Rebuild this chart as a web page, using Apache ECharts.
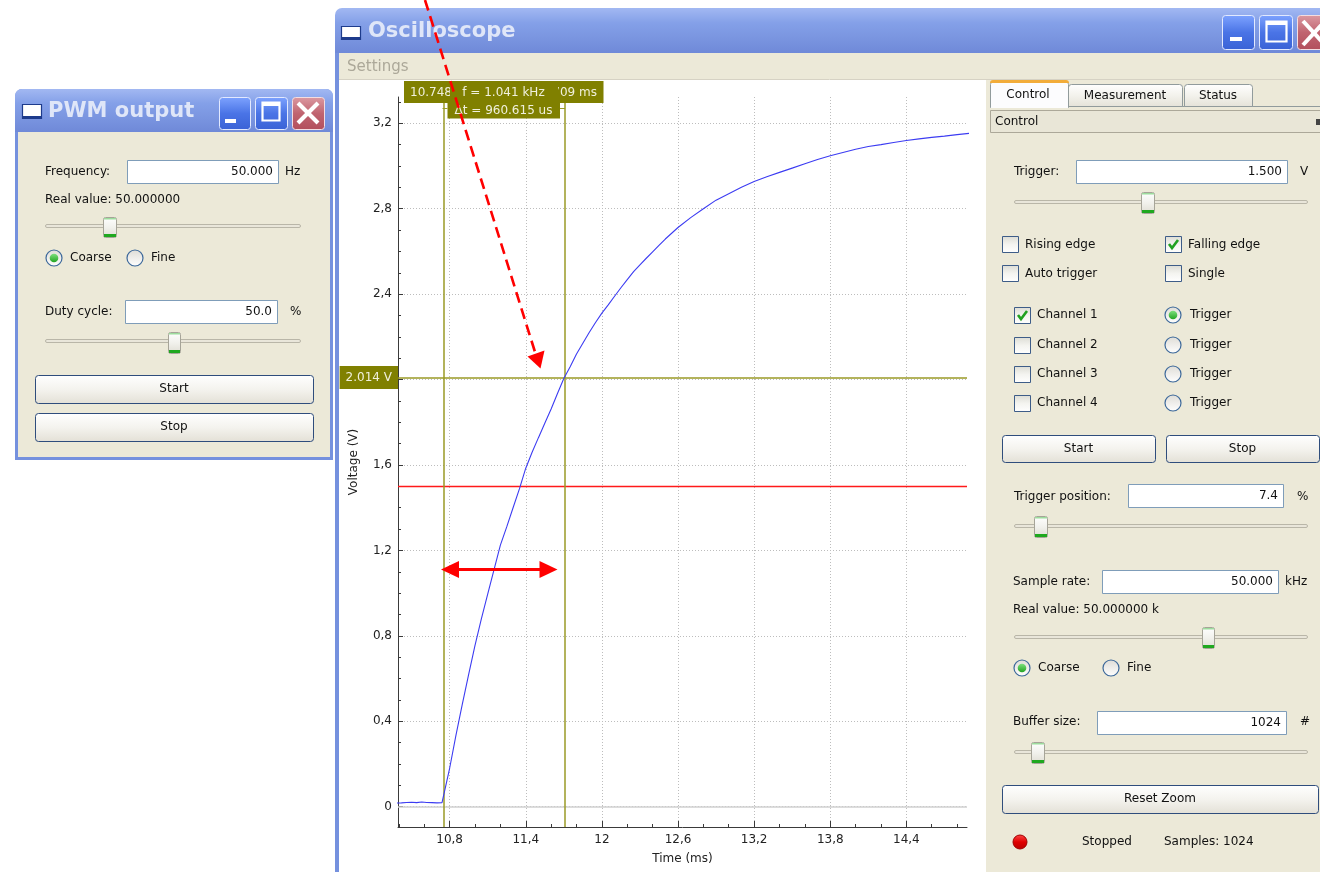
<!DOCTYPE html>
<html>
<head>
<meta charset="utf-8">
<script src="https://cdn.jsdelivr.net/npm/echarts@6/dist/echarts.min.js"></script>
<style>
html,body{margin:0;padding:0;background:#fff;}
#chart{width:1320px;height:872px;}
</style>
</head>
<body>
<div id="chart"></div>
<script>
// ---------------- data ----------------
const timeMs = [10.38,10.42,10.46,10.50,10.54,10.58,10.62,10.66,10.70,10.74,10.75,10.80,10.85,10.90,10.95,11.00,11.05,11.10,11.15,11.20,11.25,11.30,11.35,11.40,11.45,11.50,11.55,11.60,11.65,11.70,11.75,11.80,11.85,11.90,11.95,12.00,12.05,12.10,12.15,12.20,12.25,12.30,12.35,12.40,12.45,12.50,12.60,12.70,12.80,12.90,13.00,13.10,13.20,13.30,13.40,13.50,13.60,13.70,13.80,13.90,14.00,14.10,14.20,14.30,14.40,14.50,14.60,14.70,14.80,14.90];
const voltage = [0.017,0.018,0.020,0.021,0.019,0.022,0.020,0.019,0.018,0.019,0.020,0.18,0.335,0.48,0.62,0.755,0.88,0.995,1.11,1.225,1.31,1.40,1.488,1.585,1.66,1.728,1.795,1.862,1.935,2.005,2.06,2.12,2.17,2.22,2.267,2.311,2.35,2.39,2.43,2.468,2.505,2.537,2.568,2.598,2.628,2.658,2.712,2.758,2.80,2.84,2.87,2.90,2.927,2.95,2.97,2.99,3.01,3.03,3.048,3.063,3.078,3.091,3.10,3.11,3.119,3.127,3.134,3.14,3.147,3.153];
const timeRange = [10.393, 14.878];
const voltRange = [-0.095, 3.323];
const xTickValues = [10.8, 11.4, 12, 12.6, 13.2, 13.8, 14.4];
const xMinorTickValues = [10.4,10.6,11.0,11.2,11.6,11.8,12.2,12.4,12.8,13.0,13.4,13.6,14.0,14.2,14.6,14.8];
const yTickValues = [0, 0.4, 0.8, 1.2, 1.6, 2.0, 2.4, 2.8, 3.2];
const yMinorTickValues = [0.1,0.2,0.3,0.5,0.6,0.7,0.9,1.0,1.1,1.3,1.4,1.5,1.7,1.8,1.9,2.1,2.2,2.3,2.5,2.6,2.7,2.9,3.0,3.1,3.3];
const cursorTimes = [10.748, 11.709];
const cursorVoltage = 2.014;
const triggerLevel = 1.5;

// ---------------- helpers for the window chrome ----------------
const FONT = '"DejaVu Sans", Verdana, sans-serif';
const G = [];
function lg(stops){return new echarts.graphic.LinearGradient(0,0,0,1,stops.map((c,i)=>({offset:i/(stops.length-1),color:c})));}
function R(x,y,w,h,fill,stroke,o){o=o||{};const off=stroke?0.5:0;G.push({type:'rect',silent:true,z:o.z||1,shape:{x:x+off,y:y+off,width:w,height:h,r:o.r||0},style:{fill:fill||'none',stroke:stroke||'none',lineWidth:o.lw||1}});}
function T(x,y,s,o){o=o||{};G.push({type:'text',silent:true,z:o.z||5,x:x,y:y,style:{text:s,fill:o.c||'#111',font:(o.b?'bold ':'')+(o.fs||12)+'px '+FONT,align:o.a||'left',verticalAlign:'middle'}});}
function L(x1,y1,x2,y2,c,lw,o){o=o||{};G.push({type:'line',silent:true,z:o.z||2,shape:{x1,y1,x2,y2},style:{stroke:c,lineWidth:lw||1,lineDash:o.dash||null,lineCap:o.cap||'butt'}});}
function C(cx,cy,r,fill,stroke,o){o=o||{};G.push({type:'circle',silent:true,z:o.z||2,shape:{cx,cy,r},style:{fill:fill||'none',stroke:stroke||'none',lineWidth:o.lw||1}});}
function P(points,fill,o){o=o||{};G.push({type:'polygon',silent:true,z:o.z||2,shape:{points},style:{fill}});}
function PL(points,c,lw,o){o=o||{};G.push({type:'polyline',silent:true,z:o.z||2,shape:{points},style:{stroke:c,lineWidth:lw,fill:'none',lineDash:o.dash||null}});}

const BEIGE = '#ece9d8';
const TITLE = () => lg(['#a2b8f2','#84a0e8','#7a95e0','#6f89d8']);
function button(x,y,w,h,label){R(x,y,w,h,lg(['#ffffff','#f4f3ee','#e3e0d6']),'#2f4d7c',{r:3,z:2});T(x+w/2,y+h/2,label,{a:'center'});}
function input(x,y,w,h,val,tx){R(x,y,w,h,'#ffffff','#7f9db9',{z:2});T(tx!==undefined?tx:x+w-5,y+h/2,val,{a:'right'});}
function slider(x1,x2,y,hx,hy,hw,hh){R(x1,y-2,x2-x1,3,'#e9e6da','#b9b6a8',{r:1.5,z:2});R(hx,hy,hw,hh,lg(['#ffffff','#f1f1ec','#dedcd2']),'#a6a498',{r:2,z:3});R(hx+1,hy+hh-3,hw-1,3,'#1fa81f',null,{z:4});R(hx+1,hy+1,hw-1,1.5,'#9ddc9d',null,{z:4});}
function checkbox(x,y,checked){R(x,y,16,16,lg(['#dcdcd4','#f4f4f0','#ffffff']),'#3e5d88',{z:2});if(checked)PL([[x+4,y+8],[x+7,y+12],[x+13,y+4]],'#21a121',2.6,{z:3});}
function radio(cx,cy,checked){C(cx,cy,8,lg(['#dedcd6','#ffffff']),'#3c689a',{lw:1.2,z:2});if(checked){C(cx,cy,4.3,lg(['#7ee07e','#22a422']),null,{z:3});}}

// ---------------- PWM output window ----------------
R(15,89,318,371,'#7591de',null,{r:[7,7,0,0]});
R(15,89,318,43,TITLE(),null,{r:[7,7,0,0]});
R(18,132,312,325,BEIGE);
R(22,104,19,14,'#ffffff','#1d3b8c',{lw:1.2,z:2});R(22,116,20,3,'#1d3b8c',null,{z:2});
T(48,112,'PWM output',{b:1,fs:21,c:'#dfe6f8'});
R(219,97,31,32,lg(['#7ea3ff','#4a74e6','#3a62d6']),'#e2e9ff',{r:3,z:2});R(225,119,11,4,'#ffffff',null,{z:3});
R(255,97,32,32,lg(['#7ea3ff','#4a74e6','#3a62d6']),'#e2e9ff',{r:3,z:2});R(262,102,17,18,'none','#ffffff',{lw:2.2,z:3});R(262,102,18,4,'#ffffff',null,{z:3});
R(292,97,32,32,lg(['#dc9aa2','#c06470','#b24f5c']),'#f3dde0',{r:3,z:2});L(298,103,318,123,'#ffffff',4,{z:3});L(318,103,298,123,'#ffffff',4,{z:3});
T(45,172,'Frequency:');input(127,160,151,23,'50.000');T(285,172,'Hz');
T(45,200,'Real value: 50.000000');
slider(45,300,226,103,217,13,20);
radio(54,258,true);T(70,258,'Coarse');radio(135,258,false);T(151,258,'Fine');
T(45,312,'Duty cycle:');input(125,300,152,23,'50.0');T(290,312,'%');
slider(45,300,341,168,332,12,21);
button(35,375,278,28,'Start');button(35,413,278,28,'Stop');

// ---------------- Oscilloscope window ----------------
R(335,8,1000,45,TITLE(),null,{r:[7,7,0,0]});
R(335,53,4,819,'#7591de');
R(339,53,990,26,BEIGE);
L(339,79.5,1320,79.5,'#d6d2c4',1);
R(341,26,19,13,'#ffffff','#1d3b8c',{lw:1.2,z:2});R(341,37,20,3,'#1d3b8c',null,{z:2});
T(368,32,'Oscilloscope',{b:1,fs:21,c:'#dfe6f8'});
R(1222,15,32,34,lg(['#7ea3ff','#4a74e6','#3a62d6']),'#e2e9ff',{r:3,z:2});R(1230,37,12,4,'#ffffff',null,{z:3});
R(1259,15,33,34,lg(['#7ea3ff','#4a74e6','#3a62d6']),'#e2e9ff',{r:3,z:2});R(1266,21,20,20,'none','#ffffff',{lw:2.2,z:3});R(1266,21,20,4,'#ffffff',null,{z:3});
R(1297,15,40,34,lg(['#dc9aa2','#c06470','#b24f5c']),'#f3dde0',{r:3,z:2});L(1303,21,1325,45,'#ffffff',4,{z:3});L(1325,21,1303,45,'#ffffff',4,{z:3});
T(347,67,'Settings',{fs:15,c:'#aca899'});

// right control panel
R(986,80,340,792,BEIGE);
L(990,106.5,1320,106.5,'#919b9c',1);
R(1068,84,114,22,lg(['#ffffff','#f3f2ec','#e4e2d8']),'#919b9c',{r:[3,3,0,0],z:2});
R(1184,84,68,22,lg(['#ffffff','#f3f2ec','#e4e2d8']),'#919b9c',{r:[3,3,0,0],z:2});
R(990,81,78,26,'#fcfcfe','#919b9c',{r:[3,3,0,0],z:3});
R(990,80,79,3,'#f2ac3a',null,{r:[3,3,0,0],z:4});
R(991,106,77,2,'#fcfcfe',null,{z:4});
T(1028,95,'Control',{a:'center'});T(1125,96,'Measurement',{a:'center'});T(1218,96,'Status',{a:'center'});
R(990,110,335,22,'#e9e6d7','#aca899',{z:2});T(995,122,'Control');R(1316,119,4,6,'#444444',null,{z:3});
T(1014,172,'Trigger:');input(1076,160,211,23,'1.500');T(1300,172,'V');
slider(1014,1307,202,1141,192,13,21);
checkbox(1002,236,false);T(1025,245,'Rising edge');
checkbox(1165,236,true);T(1188,245,'Falling edge');
checkbox(1002,265,false);T(1025,274,'Auto trigger');
checkbox(1165,265,false);T(1188,274,'Single');
[315,345,374,403].forEach((cy,i)=>{checkbox(1014,cy-8,i===0);T(1037,cy,'Channel '+(i+1));radio(1173,cy,i===0);T(1190,cy,'Trigger');});
button(1002,435,153,27,'Start');button(1166,435,153,27,'Stop');
T(1014,497,'Trigger position:');input(1128,484,155,23,'7.4');T(1297,497,'%');
slider(1014,1307,526,1034,516,13,21);
T(1013,582,'Sample rate:');input(1102,570,176,23,'50.000');T(1285,582,'kHz');
T(1013,610,'Real value: 50.000000 k');
slider(1014,1307,637,1202,627,12,21);
radio(1022,668,true);T(1038,668,'Coarse');radio(1111,668,false);T(1127,668,'Fine');
T(1013,722,'Buffer size:');input(1097,711,189,23,'1024');T(1300,722,'#');
slider(1014,1307,752,1031,742,13,21);
button(1002,785,316,28,'Reset Zoom');
C(1020,842,7,lg(['#ff4a4a','#e00000','#b80000']),'#a00000',{z:3});
T(1082,842,'Stopped');T(1164,842,'Samples: 1024');

// ---------------- picker labels on the plot ----------------
const OL = '#808000', OLT = '#f0f0dc', OLINE = '#9a9a26';
R(404,81,70,22,OL,null,{z:100});T(410,92.5,cursorTimes[0].toFixed(3)+' ms',{c:OLT,z:101});
R(534,81,69.5,22,OL,null,{z:100});T(597,92.5,cursorTimes[1].toFixed(3)+' ms',{c:OLT,a:'right',z:101});
R(450,81,108,22,OL,null,{z:102});T(503.5,92.5,'f = 1.041 kHz',{c:OLT,a:'center',z:103});
R(447.5,103,112.5,15.5,OL,null,{z:100});T(503.5,111,'\u0394t = 960.615 us',{c:OLT,a:'center',z:101});
L(442.5,108.5,447.5,108.5,OLINE,1,{z:100});L(560,108.5,565,108.5,OLINE,1,{z:100});

// ---------------- red annotations ----------------
L(425,0,535,352,'#ff0000',2.6,{dash:[11,6],z:110});
P([[527.5,356.5],[544.5,350.5],[540.5,368.5]],'#ff0000',{z:110});
L(458,569.5,540,569.5,'#ff0000',3,{z:110});
P([[441,569.5],[459,561],[459,578]],'#ff0000',{z:110});
P([[557.5,569.5],[539.5,561],[539.5,578]],'#ff0000',{z:110});

// ---------------- chart ----------------
const fmt = v => String(Math.round(v*10)/10).replace('.', ',');
const AX = '#3a3a3a';
const seriesData = timeMs.map((t,i)=>[t, voltage[i]]);
const chart = echarts.init(document.getElementById('chart'), null, {renderer:'canvas'});
chart.setOption({
  backgroundColor:'#ffffff',
  animation:false,
  textStyle:{fontFamily:FONT},
  grid:{left:398, top:97, width:569, height:730, containLabel:false},
  xAxis:[
    {type:'value', position:'bottom', min:timeRange[0], max:timeRange[1],
     name:'Time (ms)', nameLocation:'middle', nameGap:26, nameTextStyle:{color:'#222', fontSize:12, fontFamily:FONT},
     axisLine:{show:true, onZero:false, lineStyle:{color:AX, width:1}},
     axisTick:{show:true, inside:true, length:6, customValues:xTickValues, lineStyle:{color:AX}},
     axisLabel:{show:true, customValues:xTickValues, formatter:fmt, margin:7, color:'#222', fontSize:12, fontFamily:FONT},
     splitLine:{show:true, lineStyle:{color:'#bdbdbd', width:1, type:[1,2]}}},
    {type:'value', position:'bottom', min:timeRange[0], max:timeRange[1],
     axisLine:{show:false, onZero:false},
     axisTick:{show:true, inside:true, length:3, customValues:xMinorTickValues, lineStyle:{color:AX}},
     axisLabel:{show:false}, splitLine:{show:false}}
  ],
  yAxis:[
    {type:'value', position:'left', min:voltRange[0], max:voltRange[1],
     name:'Voltage (V)', nameLocation:'middle', nameGap:38, nameTextStyle:{color:'#222', fontSize:12, fontFamily:FONT},
     axisLine:{show:true, onZero:false, lineStyle:{color:AX, width:1}},
     axisTick:{show:true, inside:true, length:5, customValues:yTickValues, lineStyle:{color:AX}},
     axisLabel:{show:true, customValues:yTickValues, formatter:fmt, margin:6, color:'#222', fontSize:12, fontFamily:FONT},
     splitLine:{show:true, lineStyle:{color:'#bdbdbd', width:1, type:[1,2]}}},
    {type:'value', position:'left', min:voltRange[0], max:voltRange[1],
     axisLine:{show:false, onZero:false},
     axisTick:{show:true, inside:true, length:3, customValues:yMinorTickValues, lineStyle:{color:AX}},
     axisLabel:{show:false}, splitLine:{show:false}}
  ],
  series:[{
    type:'line', xAxisIndex:0, yAxisIndex:0, data:seriesData, symbol:'none', clip:true, z:5,
    lineStyle:{color:'#3c3cf2', width:1.1},
    markLine:{
      silent:true, symbol:['none','none'], animation:false,
      data:[
        {yAxis:0, lineStyle:{color:'#d0d0d0', width:1.5, type:'solid'}, label:{show:false}},
        {yAxis:triggerLevel, lineStyle:{color:'#ff1a1a', width:1.3, type:'solid'}, label:{show:false}},
        {xAxis:cursorTimes[0], lineStyle:{color:OLINE, width:1.5, type:'solid'}, label:{show:false}},
        {xAxis:cursorTimes[1], lineStyle:{color:OLINE, width:1.5, type:'solid'}, label:{show:false}},
        {yAxis:cursorVoltage, lineStyle:{color:OLINE, width:1.5, type:'solid'},
         label:{show:true, position:'start', distance:0, formatter:cursorVoltage.toFixed(3)+' V',
                backgroundColor:'#808000', color:'#f0f0dc', padding:[5,6,6,6], fontSize:12, fontFamily:FONT}}
      ]
    }
  }],
  graphic:{elements:G}
});
</script>
</body>
</html>
